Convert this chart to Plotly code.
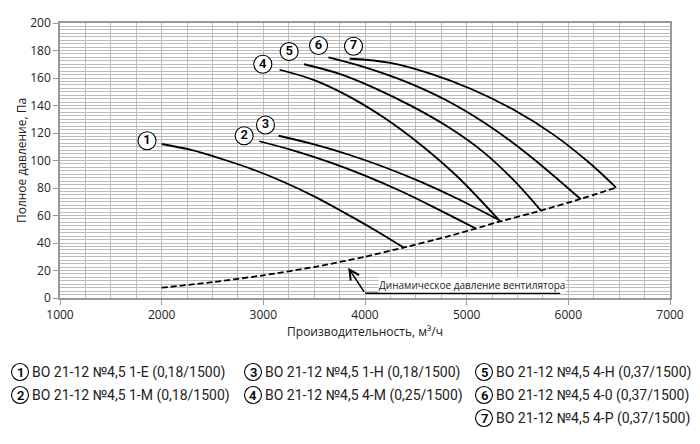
import plotly.graph_objects as go

# fan curves: flow (m3/h) and total pressure (Pa)
q1 = [2000, 2300, 2600, 2900, 3200, 3500, 3800, 4100, 4380]
p1 = [112, 107.5, 100.9, 93.4, 84.4, 73.9, 61.9, 49.3, 36.7]
q2 = [2960, 3300, 3650, 4000, 4350, 4700, 5090]
p2 = [114, 107.2, 98.8, 89, 77.8, 65.2, 50.5]
q3 = [3150, 3500, 3850, 4200, 4550, 4900, 5330]
p3 = [118, 111.7, 104, 94.9, 84.4, 72.5, 56.2]
q4 = [3160, 3500, 3850, 4200, 4550, 4900, 5310]
p4 = [166, 158.5, 146.3, 130.5, 111.3, 88.9, 57.3]
q5 = [3400, 3750, 4100, 4450, 4800, 5150, 5450, 5730]
p5 = [170, 163, 152.5, 139.9, 125.2, 107, 86.6, 63.6]
q6 = [3640, 4000, 4400, 4800, 5200, 5600, 6120]
p6 = [175, 167.8, 157.4, 143.8, 126.2, 104.6, 72]
q7 = [3850, 4250, 4650, 5050, 5450, 5850, 6200, 6470]
p7 = [174, 171, 163, 151.8, 137.4, 119, 98.7, 80.3]

# dynamic pressure of the fan (dashed)
q_dyn = [2000, 2500, 3000, 3500, 4000, 4380, 4800, 5090, 5320, 5730, 6120, 6470]
p_dyn = [7.5, 11.5, 16.5, 22.5, 30, 36.7, 44.5, 50.5, 55.5, 63.6, 72, 80.3]

curve_nums = ["1", "2", "3", "4", "5", "6", "7"]
label_q = [1856, 2811, 3021, 2995, 3254, 3543, 3887]
label_p = [114.4, 118, 125.8, 170, 179.2, 183.6, 183.1]

legend_names = [
    "ВО 21-12 №4,5 1-Е (0,18/1500)",
    "ВО 21-12 №4,5 1-М (0,18/1500)",
    "ВО 21-12 №4,5 1-Н (0,18/1500)",
    "ВО 21-12 №4,5 4-М (0,25/1500)",
    "ВО 21-12 №4,5 4-Н (0,37/1500)",
    "ВО 21-12 №4,5 4-0 (0,37/1500)",
    "ВО 21-12 №4,5 4-Р (0,37/1500)",
]

curves = [(q1, p1), (q2, p2), (q3, p3), (q4, p4), (q5, p5), (q6, p6), (q7, p7)]

FONT = "Open Sans"
fig = go.Figure()

for q, p in curves:
    fig.add_trace(go.Scatter(x=q, y=p, mode="lines",
                             line=dict(color="black", width=1.8,
                                       shape="spline", smoothing=1.0),
                             hoverinfo="skip"))

fig.add_trace(go.Scatter(x=q_dyn, y=p_dyn, mode="lines",
                         line=dict(color="black", width=1.8, dash="6px,3px",
                                   shape="spline", smoothing=0.5),
                         hoverinfo="skip"))

# circled numbers on the chart
fig.add_trace(go.Scatter(x=label_q, y=label_p, mode="markers+text",
                         text=curve_nums, textposition="middle center",
                         textfont=dict(family="Roboto", size=13, color="black",
                                       weight=600),
                         marker=dict(symbol="circle", size=18, color="white",
                                     line=dict(color="black", width=1.1)),
                         cliponaxis=False, hoverinfo="skip"))

# annotation for the dashed curve
fig.add_annotation(x=3835, y=22, ax=4002, ay=3.4, xref="x", yref="y",
                   axref="x", ayref="y", text="", showarrow=True,
                   arrowhead=5, arrowsize=1.3, arrowwidth=1.5, arrowcolor="black")
fig.add_shape(type="line", x0=4002, y0=3.4, x1=5921, y1=3.4,
              line=dict(color="black", width=1.5))
fig.add_annotation(x=4130, y=3.9, xref="x", yref="y", xanchor="left",
                   yanchor="bottom", showarrow=False,
                   text="Динамическое давление вентилятора",
                   bgcolor="white", borderpad=0,
                   font=dict(family=FONT, size=10, color="#222"))

# legend under the chart, drawn as circles + text in paper coords
plot_l, plot_w, plot_t, plot_h = 60, 610, 23, 275
col_of = [0, 0, 1, 1, 2, 2, 2]
row_of = [0, 1, 0, 1, 0, 1, 2]
col_px = [20, 253, 484]
row_px = [372, 395, 418]
for i, name in enumerate(legend_names):
    cx = (col_px[col_of[i]] - plot_l) / plot_w
    cy = (plot_t + plot_h - row_px[row_of[i]]) / plot_h
    fig.add_shape(type="circle", xref="paper", yref="paper",
                  xsizemode="pixel", ysizemode="pixel",
                  xanchor=cx, yanchor=cy, x0=-8.5, x1=8.5, y0=-8.5, y1=8.5,
                  line=dict(color="black", width=1.1), fillcolor="white")
    fig.add_annotation(x=cx, y=cy, xref="paper", yref="paper",
                       text=curve_nums[i], showarrow=False,
                       xanchor="center", yanchor="middle",
                       font=dict(family="Roboto", size=13, color="black",
                                 weight=600))
    fig.add_annotation(x=cx, y=cy, xref="paper", yref="paper", xshift=10,
                       text=name, showarrow=False,
                       xanchor="left", yanchor="middle",
                       font=dict(family="Roboto", size=14, color="#222"))

grid = "#bcbcbc"
fig.update_xaxes(range=[1000, 7000], dtick=1000, tick0=1000,
                 showgrid=True, gridcolor=grid, gridwidth=1,
                 minor=dict(dtick=250, showgrid=True, gridcolor=grid, gridwidth=1),
                 showline=True, linecolor="#999", linewidth=1.5, mirror=True,
                 ticks="outside", ticklen=5, tickcolor="#999",
                 zeroline=False, automargin=False,
                 tickfont=dict(family=FONT, size=12, color="#222"),
                 title=dict(text="Производительность, м³/ч", standoff=5,
                            font=dict(family=FONT, size=12, color="#222")))
fig.update_yaxes(range=[0, 200], dtick=20, tick0=0,
                 showgrid=True, gridcolor=grid, gridwidth=1,
                 minor=dict(dtick=2.5, showgrid=True, gridcolor=grid, gridwidth=1),
                 showline=True, linecolor="#999", linewidth=1.5, mirror=True,
                 ticks="outside", ticklen=5, tickcolor="#999",
                 zeroline=False, automargin=False,
                 tickfont=dict(family=FONT, size=12, color="#222"),
                 title=dict(text="Полное давление, Па", standoff=0,
                            font=dict(family=FONT, size=12, color="#222")))

fig.update_layout(width=700, height=444, showlegend=False,
                  margin=dict(l=60, r=30, t=23, b=146),
                  plot_bgcolor="white", paper_bgcolor="white")

# the page body has a default 8px margin; drop it so the figure sits at 0,0
fig.write_html("out.html", config={"displayModeBar": False},
               post_script="document.body.style.margin='0';")
